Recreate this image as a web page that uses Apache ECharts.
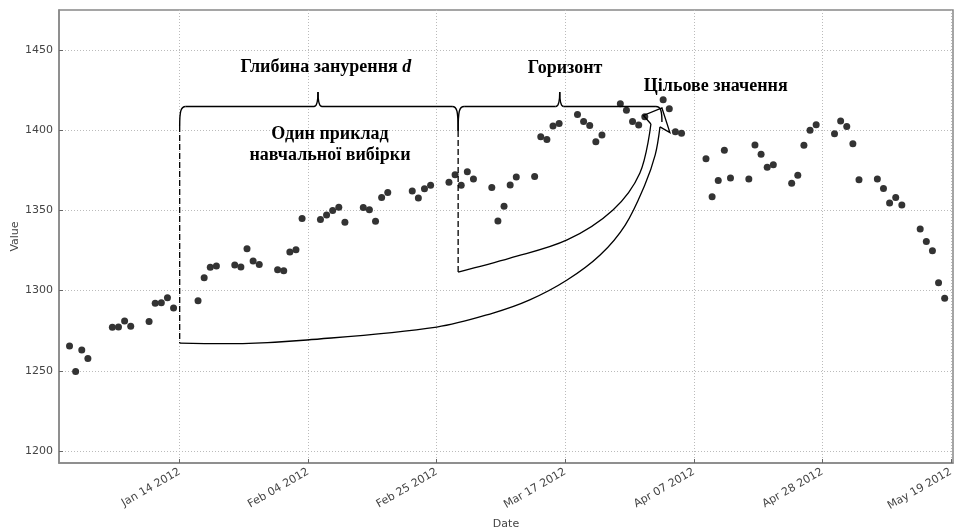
<!DOCTYPE html>
<html><head><meta charset="utf-8">
<script src="https://cdn.jsdelivr.net/npm/echarts@6/dist/echarts.min.js"></script>
<style>html,body{margin:0;padding:0;background:#fff}#c{width:955px;height:531px}</style>
</head><body><div id="c"></div>
<script>
// ---- data ----
const dates = ['2011-12-27','2011-12-28','2011-12-29','2011-12-30','2012-01-03','2012-01-04','2012-01-05','2012-01-06','2012-01-09','2012-01-10','2012-01-11','2012-01-12','2012-01-13','2012-01-17','2012-01-18','2012-01-19','2012-01-20','2012-01-23','2012-01-24','2012-01-25','2012-01-26','2012-01-27','2012-01-30','2012-01-31','2012-02-01','2012-02-02','2012-02-03','2012-02-06','2012-02-07','2012-02-08','2012-02-09','2012-02-10','2012-02-13','2012-02-14','2012-02-15','2012-02-16','2012-02-17','2012-02-21','2012-02-22','2012-02-23','2012-02-24','2012-02-27','2012-02-28','2012-02-29','2012-03-01','2012-03-02','2012-03-05','2012-03-06','2012-03-07','2012-03-08','2012-03-09','2012-03-12','2012-03-13','2012-03-14','2012-03-15','2012-03-16','2012-03-19','2012-03-20','2012-03-21','2012-03-22','2012-03-23','2012-03-26','2012-03-27','2012-03-28','2012-03-29','2012-03-30','2012-04-02','2012-04-03','2012-04-04','2012-04-05','2012-04-09','2012-04-10','2012-04-11','2012-04-12','2012-04-13','2012-04-16','2012-04-17','2012-04-18','2012-04-19','2012-04-20','2012-04-23','2012-04-24','2012-04-25','2012-04-26','2012-04-27','2012-04-30','2012-05-01','2012-05-02','2012-05-03','2012-05-04','2012-05-07','2012-05-08','2012-05-09','2012-05-10','2012-05-11','2012-05-14','2012-05-15','2012-05-16','2012-05-17','2012-05-18'];
const values = [1265.4,1249.6,1263.0,1257.6,1277.1,1277.3,1281.1,1277.8,1280.7,1292.1,1292.5,1295.5,1289.1,1293.7,1308.0,1314.5,1315.4,1316.0,1314.7,1326.1,1318.4,1316.3,1313.0,1312.4,1324.1,1325.5,1344.9,1344.3,1347.1,1350.0,1352.0,1342.6,1351.8,1350.5,1343.2,1358.0,1361.2,1362.2,1357.7,1363.5,1365.7,1367.6,1372.2,1365.7,1374.1,1369.6,1364.3,1343.4,1352.6,1365.9,1370.9,1371.1,1396.0,1394.3,1402.6,1404.2,1409.8,1405.5,1402.9,1392.8,1397.1,1416.5,1412.5,1405.5,1403.3,1408.5,1419.0,1413.4,1399.0,1398.1,1382.2,1358.6,1368.7,1387.6,1370.3,1369.6,1390.8,1385.1,1376.9,1378.5,1366.9,1372.0,1390.7,1400.0,1403.4,1397.9,1405.8,1402.3,1391.6,1369.1,1369.6,1363.7,1354.6,1358.0,1353.4,1338.4,1330.7,1324.8,1304.9,1295.2];
const xTickDates = ['2012-01-14','2012-02-04','2012-02-25','2012-03-17','2012-04-07','2012-04-28','2012-05-19'];
const yTicks = [1200,1250,1300,1350,1400,1450];
const xRangeDays = [-19.72, 126.36];   // axis limits, days from Jan 14 2012
const yRange = [1192.5, 1475];

// annotation anchors (days from Jan 14 2012, value)
const depthStartDay = 0, horizonStartDay = 45.5, targetDay = 78.8;
const depthPeakDay = 22.6, horizonPeakDay = 62.1;
const braceValue = 1414.8, bracePeakValue = 1423.9;
const depthTopValue = 1402.7, horizonTopValue = 1399.6, targetTopValue = 1405.2;
const depthBottomValue = 1267.3, horizonBottomValue = 1311.6;
const innerCurve = [[45.5,1311.6],[53.97,1320.3],[63.3,1331.6],[70.8,1350.3],[75.2,1373.4],[77.0,1403.9]];
const outerCurve = [[0,1267.3],[10.3,1267.0],[20.8,1269.2],[42.0,1277.3],[51.2,1286.0],[57.2,1294.2],[63.3,1306.6],[68.7,1322.2],[72.8,1340.9],[76.0,1365.9],[77.7,1384.6],[78.48,1402.1]];
const arrowHead = [[77.0,1403.9],[75.78,1409.2],[78.8,1413.9],[80.1,1398.6],[78.48,1402.1]];
const labels = [
  {text:'Глибина занурення {i|d}', at:[23.9,1439.1]},
  {text:'Горизонт', at:[62.97,1438.4]},
  {text:'Цільове значення', at:[87.6,1427.5]},
  {text:'Один приклад', at:[24.56,1397.2]},
  {text:'навчальної вибірки', at:[24.56,1384.1]}
];

const DAY = 86400000;
const T0 = Date.parse('2012-01-14');
const MONTHS = ['Jan','Feb','Mar','Apr','May','Jun','Jul','Aug','Sep','Oct','Nov','Dec'];
const fmt = v => { const d = new Date(v); return MONTHS[d.getUTCMonth()] + ' ' + String(d.getUTCDate()).padStart(2,'0') + ' ' + d.getUTCFullYear(); };
const xTicks = xTickDates.map(s => Date.parse(s));
const points = dates.map((s, i) => [Date.parse(s), values[i]]);

const chart = echarts.init(document.getElementById('c'), null, {renderer:'canvas'});
const axisColor = '#888';
const labelColor = '#444';
chart.setOption({
  animation: false,
  backgroundColor: '#fff',
  grid: {left:59, right:2, top:10, bottom:68, outerBoundsMode:'none', containLabel:false, show:true, borderColor:axisColor, borderWidth:1.5},
  xAxis: {
    type:'value', min: T0 + xRangeDays[0]*DAY, max: T0 + xRangeDays[1]*DAY,
    name:'Date', nameLocation:'middle', nameGap:56, nameMoveOverlap:false,
    nameTextStyle:{fontSize:11, color:labelColor, fontFamily:'DejaVu Sans'},
    axisLine:{show:true, lineStyle:{color:axisColor, width:1.5}},
    axisTick:{show:true, inside:true, length:4, customValues:xTicks, lineStyle:{color:'#666'}},
    axisLabel:{customValues:xTicks, formatter:fmt, rotate:30, fontSize:11, color:labelColor, fontFamily:'DejaVu Sans', margin:8},
    splitLine:{show:true, lineStyle:{type:[1,2], color:'#bbb', width:1}}
  },
  yAxis: {
    type:'value', min:yRange[0], max:yRange[1],
    name:'Value', nameLocation:'middle', nameGap:38, nameMoveOverlap:false,
    nameTextStyle:{fontSize:11, color:labelColor, fontFamily:'DejaVu Sans'},
    axisLine:{show:true, lineStyle:{color:axisColor, width:1.5}},
    axisTick:{show:true, inside:true, length:4, customValues:yTicks, lineStyle:{color:'#666'}},
    axisLabel:{customValues:yTicks, formatter:v => String(v), fontSize:11, color:labelColor, fontFamily:'DejaVu Sans', margin:6},
    splitLine:{show:true, lineStyle:{type:[1,2], color:'#bbb', width:1}}
  },
  series: [{type:'scatter', data:points, symbolSize:7, itemStyle:{color:'#333', opacity:1}, z:3}]
});

const P = (d, v) => chart.convertToPixel({gridIndex:0}, [T0 + d*DAY, v]);
const LS = {stroke:'#000', lineWidth:1.4, fill:null};
const g = [];
const line = (a, b, extra) => g.push({type:'line', z:10, shape:{x1:a[0], y1:a[1], x2:b[0], y2:b[1]}, style:Object.assign({}, LS, extra || {})});
const cubic = (a, c1, c2, b) => g.push({type:'bezierCurve', z:10, shape:{x1:a[0], y1:a[1], cpx1:c1[0], cpy1:c1[1], cpx2:c2[0], cpy2:c2[1], x2:b[0], y2:b[1]}, style:LS});
const quad = (a, c, b) => g.push({type:'bezierCurve', z:10, shape:{x1:a[0], y1:a[1], cpx1:c[0], cpy1:c[1], x2:b[0], y2:b[1]}, style:LS});

function brace(d1, d2, dPeak, end1v, end2v) {
  const x1 = P(d1, braceValue)[0], x2 = P(d2, braceValue)[0], yL = P(d1, braceValue)[1];
  const [xp, yp] = P(dPeak, bracePeakValue);
  const y1e = P(d1, end1v)[1], y2e = P(d2, end2v)[1];
  cubic([x1, y1e], [x1, yL + 5], [x1 + 1, yL], [x1 + 6, yL]);
  line([x1 + 6, yL], [xp - 4, yL]);
  quad([xp - 4, yL], [xp, yL], [xp, yp]);
  quad([xp, yp], [xp, yL], [xp + 4, yL]);
  line([xp + 4, yL], [x2 - 6, yL]);
  cubic([x2 - 6, yL], [x2 - 1, yL], [x2, yL + 5], [x2, y2e]);
}
brace(depthStartDay, horizonStartDay, depthPeakDay, depthTopValue, horizonTopValue);
brace(horizonStartDay, targetDay, horizonPeakDay, horizonTopValue, targetTopValue);
[[depthStartDay, depthTopValue, depthBottomValue],[horizonStartDay, horizonTopValue, horizonBottomValue]].forEach(([d, v1, v2]) => {
  line(P(d, v1), P(d, v2), {lineWidth:1.3, lineDash:[6,3]});
});
g.push({type:'polyline', z:10, shape:{points:innerCurve.map(p => P(p[0], p[1])), smooth:0.35}, style:{stroke:'#000', lineWidth:1.3, fill:null}});
g.push({type:'polyline', z:10, shape:{points:outerCurve.map(p => P(p[0], p[1])), smooth:0.35}, style:{stroke:'#000', lineWidth:1.3, fill:null}});
g.push({type:'polyline', z:10, shape:{points:arrowHead.map(p => P(p[0], p[1]))}, style:{stroke:'#000', lineWidth:1.3, fill:null, lineJoin:'miter'}});
const FONT = 'bold 18px "Liberation Serif", "Times New Roman", serif';
labels.forEach(l => {
  const [x, y] = P(l.at[0], l.at[1]);
  g.push({type:'text', x, y, z:11, style:{
    text:l.text, font:FONT, fill:'#000',
    align:'center', verticalAlign:'middle', textAlign:'center', textVerticalAlign:'middle',
    rich:{i:{font:'italic bold 18px "Liberation Serif", serif', fill:'#000'}}
  }});
});
chart.setOption({graphic: g});
</script></body></html>
